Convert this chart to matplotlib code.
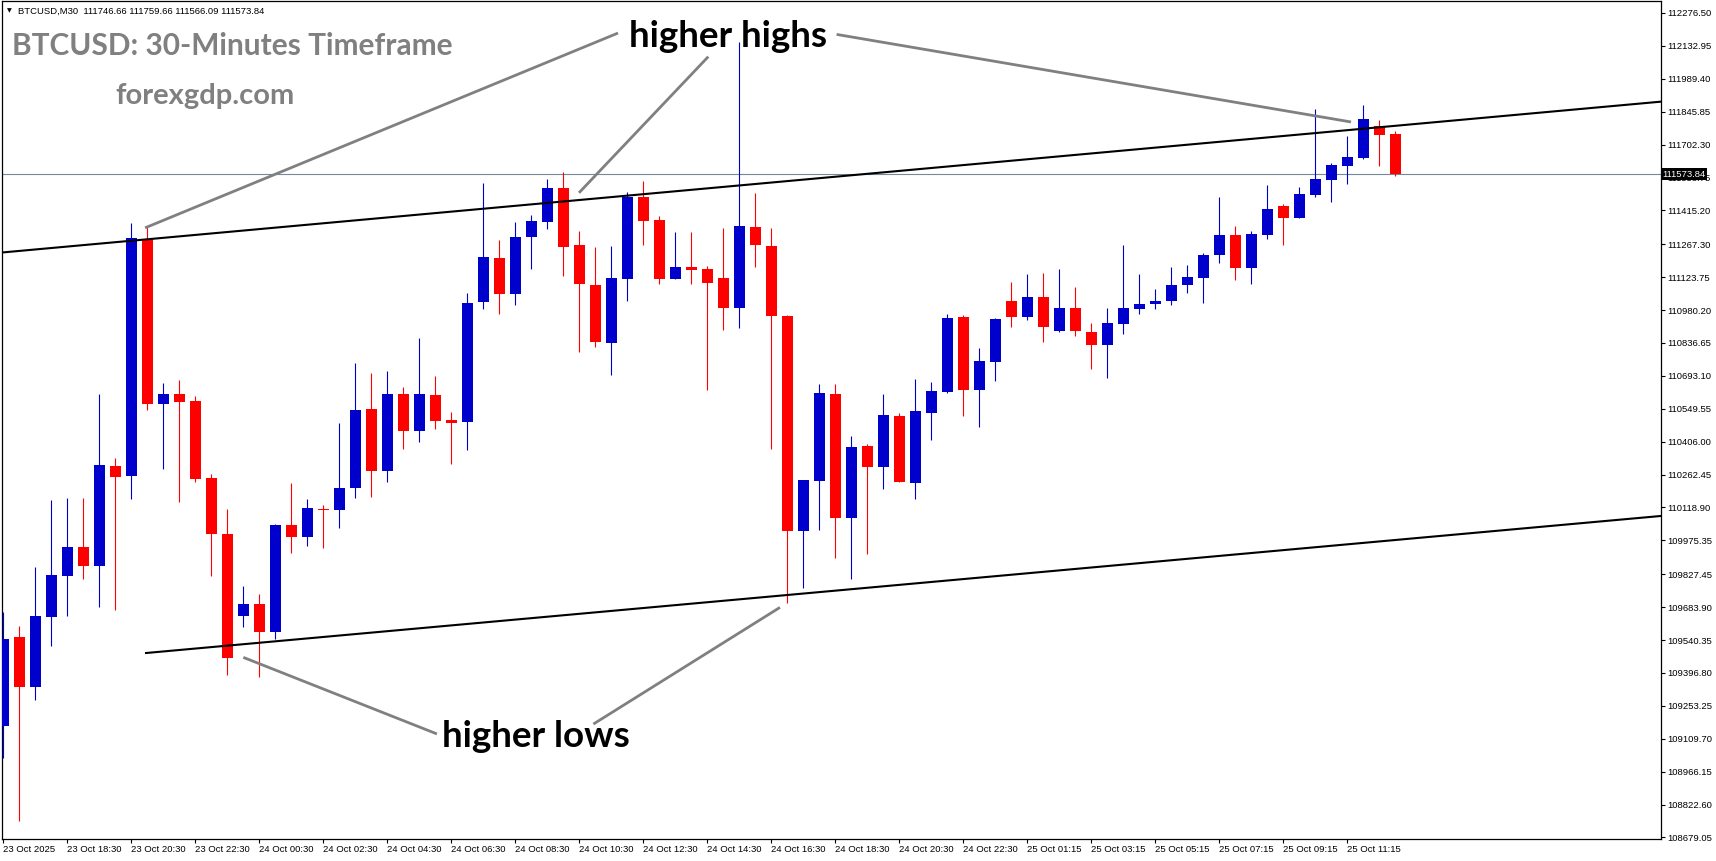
import numpy as np
import matplotlib.pyplot as plt

# BTCUSD M30 candles
opens = [109167, 109556, 109335, 109639, 109822, 109947, 109865, 110299, 110258, 111289,
         110572, 110614, 110583, 110247, 110002, 109646, 109697, 109577, 110043, 109992,
         110114, 110108, 110205, 110549, 110279, 110614, 110454, 110610, 110501, 110493,
         111017, 111208, 111052, 111300, 111366, 111513, 111264, 111090, 110838, 111117,
         111474, 111373, 111117, 111168, 111160, 111121, 110990, 111342, 111259, 110954,
         110018, 110236, 110614, 110075, 110386, 110297, 110517, 110227, 110533, 110624,
         110950, 110633, 110754, 111019, 110951, 111039, 110890, 110989, 110885, 110828,
         110921, 110986, 111008, 111021, 111091, 111122, 111222, 111308, 111165, 111309,
         111434, 111383, 111484, 111549, 111610, 111645, 111783, 111746.66]
highs = [109664, 109601, 109861, 110153, 110162, 110162, 110616, 110335, 111361, 111343,
         110663, 110676, 110605, 110263, 110113, 109776, 109742, 110048, 110225, 110156,
         110130, 110488, 110751, 110704, 110715, 110643, 110857, 110691, 110534, 111054,
         111535, 111286, 111365, 111395, 111552, 111583, 111325, 111256, 111260, 111494,
         111544, 111392, 111321, 111321, 111173, 111339, 112151, 111490, 111339, 110959,
         110241, 110658, 110658, 110430, 110398, 110614, 110532, 110679, 110666, 110963,
         110959, 110814, 110947, 111103, 111137, 111142, 111158, 111081, 110924, 110989,
         111266, 111138, 111072, 111168, 111177, 111229, 111474, 111347, 111325, 111526,
         111443, 111517, 111858, 111622, 111740, 111875, 111810, 111759.66]
lows = [109028, 108753, 109281, 109516, 109646, 109809, 109683, 109670, 110158, 110545,
        110285, 110144, 110231, 109822, 109389, 109598, 109380, 109543, 109920, 109951,
        109942, 110031, 110162, 110166, 110231, 110373, 110406, 110460, 110307, 110369,
        110985, 110965, 111002, 111161, 111335, 111130, 110799, 110821, 110698, 111021,
        111264, 111095, 111117, 111095, 110633, 110895, 110903, 111169, 110372, 109704,
        109768, 110022, 109900, 109808, 109916, 110200, 110228, 110156, 110415, 110620,
        110516, 110472, 110672, 110906, 110938, 110841, 110885, 110869, 110721, 110685,
        110876, 110965, 110985, 111004, 111056, 111013, 111187, 111113, 111095, 111292,
        111266, 111383, 111475, 111453, 111532, 111641, 111610, 111566.09]
closes = [109547, 109335, 109646, 109824, 109947, 109865, 110305, 110254, 111294, 110572,
          110614, 110580, 110245, 110005, 109464, 109697, 109577, 110043, 109992, 110117,
          110109, 110205, 110544, 110279, 110614, 110454, 110614, 110498, 110489, 111010,
          111212, 111052, 111299, 111369, 111513, 111257, 111095, 110842, 111120, 111474,
          111370, 111117, 111168, 111157, 111100, 110990, 111347, 111266, 110956, 110018,
          110238, 110619, 110075, 110383, 110297, 110522, 110231, 110540, 110627, 110945,
          110633, 110758, 110942, 110951, 111039, 110908, 110989, 110887, 110829, 110924,
          110989, 111007, 111020, 111090, 111125, 111221, 111308, 111165, 111312, 111421,
          111383, 111487, 111552, 111613, 111648, 111814, 111746, 111573.84]

time_labels = ["23 Oct 2025", "23 Oct 18:30", "23 Oct 20:30", "23 Oct 22:30", "24 Oct 00:30",
               "24 Oct 02:30", "24 Oct 04:30", "24 Oct 06:30", "24 Oct 08:30", "24 Oct 10:30",
               "24 Oct 12:30", "24 Oct 14:30", "24 Oct 16:30", "24 Oct 18:30", "24 Oct 20:30",
               "24 Oct 22:30", "25 Oct 01:15", "25 Oct 03:15", "25 Oct 05:15", "25 Oct 07:15",
               "25 Oct 09:15", "25 Oct 11:15"]
price_labels = ["112276.50", "112132.95", "111989.40", "111845.85", "111702.30", "111558.75",
                "111415.20", "111267.30", "111123.75", "110980.20", "110836.65", "110693.10",
                "110549.55", "110406.00", "110262.45", "110118.90", "109975.35", "109827.45",
                "109683.90", "109540.35", "109396.80", "109253.25", "109109.70", "108966.15",
                "108822.60", "108679.05"]

bid = 111573.84
# trend channel (bar index, price)
upper_line = [(-0.06, 111231.5), (103.6, 111889.5)]
lower_line = [(8.94, 109484.0), (103.6, 110081.8)]

# arrows from the labels to the swing points
high_arrows = [[(38.44, 112189.0), (8.88, 111339.0)],
               [(44.08, 112086.0), (36.0, 111492.0)],
               [(52.1, 112183.0), (84.25, 111801.0)]]
low_arrows = [[(15.02, 109465.0), (27.12, 109131.0)],
              [(36.9, 109174.0), (48.56, 109683.0)]]

W, H = 1716, 861
fig = plt.figure(figsize=(W / 100, H / 100), dpi=100)
ax = fig.add_axes([2 / W, 22 / H, 1659 / W, 838 / H])

blue = "#0000cc"
red = "#ff0000"
n = len(opens)
x = np.arange(n)
o = np.array(opens)
c = np.array(closes)
cols = [blue if cc >= oo else red for oo, cc in zip(o, c)]

ax.vlines(x, lows, highs, colors=cols, linewidth=0.8, zorder=3)
bottoms = np.minimum(o, c)
heights = np.maximum(np.abs(c - o), 4.0)
ax.bar(x, heights, bottom=bottoms, width=11 / 16, color=cols, linewidth=0, zorder=4)

ax.axhline(bid, color="#778899", linewidth=0.8, zorder=2)

for line in (upper_line, lower_line):
    xs, ys = zip(*line)
    ax.plot(xs, ys, color="black", linewidth=1.5, zorder=5)

for seg in high_arrows + low_arrows:
    xs, ys = zip(*seg)
    ax.plot(xs, ys, color="#808080", linewidth=2, zorder=5, solid_capstyle="butt")

ax.set_xlim(-0.0625, 103.625)
ax.set_ylim(108672.5, 112328.8)

ax.set_xticks(np.arange(len(time_labels)) * 4)
ax.set_xticklabels(time_labels, ha="left", fontsize=6.8, family="Liberation Sans")
ax.yaxis.tick_right()
ax.set_yticks([float(v) for v in price_labels])
ax.set_yticklabels(price_labels, fontsize=6.8, family="Liberation Sans")
ax.tick_params(axis="both", length=3, width=0.8, pad=1.5, colors="black")
for s in ax.spines.values():
    s.set_linewidth(0.9)

# current bid tag covers the tick label beneath it, like the terminal does
ax.text(1.001, bid, f"{bid:.2f}", transform=ax.get_yaxis_transform(), ha="left", va="center",
        color="white", fontsize=6.8, family="Liberation Sans", zorder=10, clip_on=False,
        bbox=dict(boxstyle="square,pad=0.15", fc="black", ec="none"))

# text overlays (pixel positions)
def fx(px):
    return px / W

def fy(py):
    return 1 - py / H

fig.text(fx(7), fy(11), "\u25bc", fontsize=4.5, va="center", ha="left", family="DejaVu Sans")
fig.text(fx(18), fy(11), "BTCUSD,M30  111746.66 111759.66 111566.09 111573.84",
         fontsize=6.8, va="center", ha="left", family="Liberation Sans")
fig.text(fx(12), fy(55), "BTCUSD: 30-Minutes Timeframe", fontsize=21.5, fontweight="bold",
         family="Lato", color="#808080", va="baseline", ha="left")
fig.text(fx(115), fy(104), "forexgdp.com", fontsize=21, fontweight="bold",
         family="Lato", color="#808080", va="baseline", ha="left")
fig.text(fx(629), fy(47), "higher highs", fontsize=26.5, fontweight="bold",
         family="Lato", color="black", va="baseline", ha="left")
fig.text(fx(442), fy(747), "higher lows", fontsize=26.5, fontweight="bold",
         family="Lato", color="black", va="baseline", ha="left")

fig.savefig("out.png", dpi=100)
